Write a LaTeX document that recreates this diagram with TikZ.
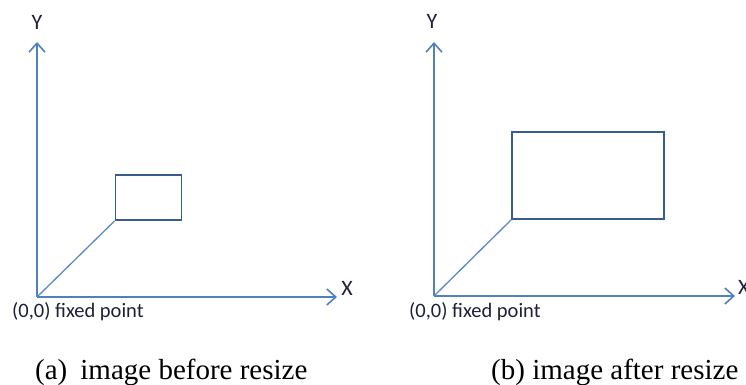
\documentclass[tikz,border=0pt]{standalone}
\usepackage{fontspec}
\setmainfont{Liberation Serif}
\newfontfamily\calib{Carlito}
\usetikzlibrary{arrows.meta}
\definecolor{axisblue}{HTML}{4F81BD}
\definecolor{boxblue}{HTML}{385D8A}
\definecolor{diagblue}{HTML}{5B8AC6}
\definecolor{labelink}{HTML}{1F1F3A}
\begin{document}
\begin{tikzpicture}[x=1pt,y=-1pt,
  axis/.style={draw=axisblue, line width=1.8pt, -{Straight Barb[length=9pt,width=16pt,line width=1.6pt]}},
  imgbox/.style={draw=boxblue, line width=1.8pt, rectangle, inner sep=0pt},
  diag/.style={draw=diagblue, line width=1.3pt},
  axlabel/.style={font=\calib\fontsize{22}{24}\selectfont, text=labelink, inner sep=0pt},
  ptlabel/.style={font=\calib\fontsize{20.5}{22}\selectfont, text=labelink, inner sep=0pt, anchor=base west},
  caption/.style={font=\fontsize{29}{32}\selectfont, text=black, inner sep=0pt, anchor=base west}
]
\useasboundingbox (0,0) rectangle (746,385);
% ---- panel (a)
\coordinate (oa) at (37,297);
\coordinate (ya) at (37,42);
\coordinate (xa) at (337,297);
\draw[axis] (oa) -- (ya);
\draw[axis] (oa) -- (xa);
\node[axlabel] (lya) at (37,22) {Y};
\node[axlabel] (lxa) at (347,288) {X};
\node[imgbox, minimum width=66pt, minimum height=45pt] (ra) at (148.5,197.5) {};
\draw[diag] (oa) -- (ra.south west);
\node[ptlabel] (pa) at (12,317) {(0,0) fixed point};
\node[caption] (ca) at (35,379) {(a)\hspace{13pt}image before resize};
% ---- panel (b)
\coordinate (ob) at (434,296);
\coordinate (yb) at (434,42);
\coordinate (xb) at (735,296);
\draw[axis] (ob) -- (yb);
\draw[axis] (ob) -- (xb);
\node[axlabel] (lyb) at (432,21) {Y};
\node[axlabel, anchor=west] (lxb) at (738,287) {X};
\node[imgbox, minimum width=152pt, minimum height=87pt] (rb) at (588,175.5) {};
\draw[diag] (ob) -- (rb.south west);
\node[ptlabel] (pb) at (409,317) {(0,0) fixed point};
\node[caption] (cb) at (491,379) {(b) image after resize};
\end{tikzpicture}
\end{document}
